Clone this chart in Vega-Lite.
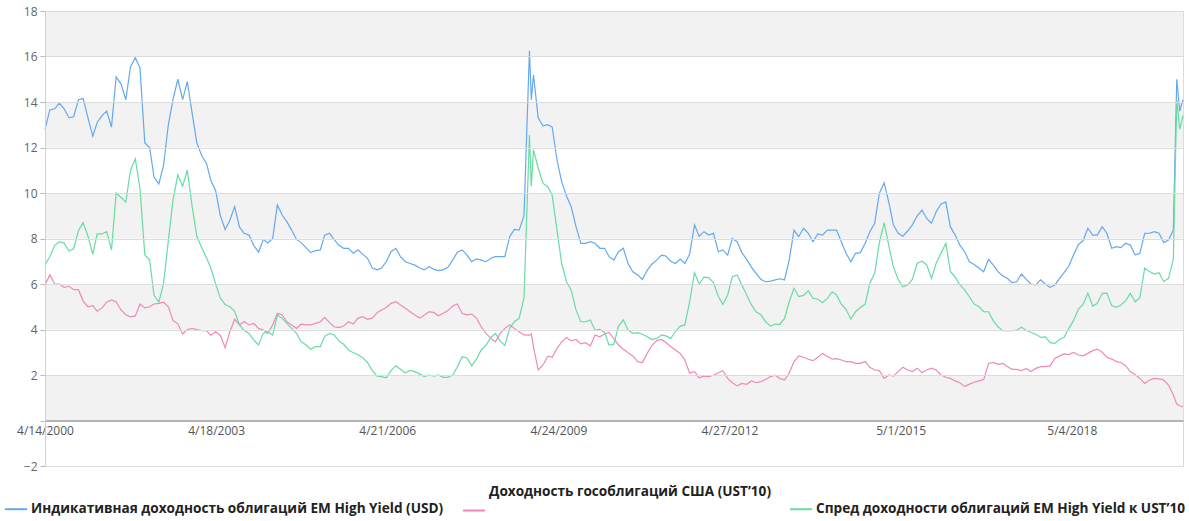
{
  "$schema": "https://vega.github.io/schema/vega-lite/v6.json",
  "width": 1138,
  "height": 455,
  "autosize": {"type": "none"},
  "padding": {"left": 45, "top": 11, "right": 6, "bottom": 55},
  "background": "white",
  "config": {"view": {"stroke": "#dcdcdc"}, "font": "Open Sans"},
  "datasets": {
    "bands": [{"lo": 0, "hi": 2}, {"lo": 4, "hi": 6}, {"lo": 8, "hi": 10}, {"lo": 12, "hi": 14}, {"lo": 16, "hi": 18}],
    "yields": [
      {"d":"2000-04-14","a":12.8,"b":5.96,"c":6.85},
      {"d":"2000-05-15","a":13.65,"b":6.4,"c":7.2},
      {"d":"2000-06-15","a":13.7,"b":6.0,"c":7.7},
      {"d":"2000-07-15","a":13.95,"b":6.0,"c":7.85},
      {"d":"2000-08-15","a":13.7,"b":5.85,"c":7.8},
      {"d":"2000-09-15","a":13.3,"b":5.9,"c":7.45},
      {"d":"2000-10-15","a":13.35,"b":5.75,"c":7.55},
      {"d":"2000-11-15","a":14.1,"b":5.75,"c":8.35},
      {"d":"2000-12-15","a":14.15,"b":5.25,"c":8.7},
      {"d":"2001-01-15","a":13.3,"b":5.0,"c":8.1},
      {"d":"2001-02-15","a":12.5,"b":5.05,"c":7.3},
      {"d":"2001-03-15","a":13.1,"b":4.8,"c":8.2},
      {"d":"2001-04-15","a":13.4,"b":4.95,"c":8.2},
      {"d":"2001-05-15","a":13.6,"b":5.2,"c":8.3},
      {"d":"2001-06-15","a":12.9,"b":5.3,"c":7.5},
      {"d":"2001-07-15","a":15.1,"b":5.22,"c":10.0},
      {"d":"2001-08-15","a":14.8,"b":4.86,"c":9.8},
      {"d":"2001-09-15","a":14.1,"b":4.65,"c":9.6},
      {"d":"2001-10-15","a":15.55,"b":4.56,"c":11.0},
      {"d":"2001-11-15","a":15.95,"b":4.6,"c":11.5},
      {"d":"2001-12-15","a":15.5,"b":5.12,"c":10.2},
      {"d":"2002-01-15","a":12.2,"b":4.95,"c":7.27},
      {"d":"2002-02-15","a":12.0,"b":5.0,"c":7.05},
      {"d":"2002-03-15","a":10.7,"b":5.12,"c":5.5},
      {"d":"2002-04-15","a":10.4,"b":5.15,"c":5.2},
      {"d":"2002-05-15","a":11.2,"b":5.2,"c":6.0},
      {"d":"2002-06-15","a":13.0,"b":5.0,"c":7.9},
      {"d":"2002-07-15","a":14.1,"b":4.4,"c":9.7},
      {"d":"2002-08-15","a":15.0,"b":4.25,"c":10.8},
      {"d":"2002-09-15","a":14.1,"b":3.8,"c":10.3},
      {"d":"2002-10-15","a":14.9,"b":4.0,"c":11.0},
      {"d":"2002-11-15","a":13.5,"b":4.05,"c":9.4},
      {"d":"2002-12-15","a":12.2,"b":4.0,"c":8.1},
      {"d":"2003-01-15","a":11.65,"b":3.95,"c":7.6},
      {"d":"2003-02-15","a":11.3,"b":3.95,"c":7.15},
      {"d":"2003-03-15","a":10.55,"b":3.75,"c":6.7},
      {"d":"2003-04-15","a":10.1,"b":3.9,"c":6.0},
      {"d":"2003-05-15","a":9.0,"b":3.75,"c":5.37},
      {"d":"2003-06-15","a":8.4,"b":3.2,"c":5.1},
      {"d":"2003-07-15","a":8.8,"b":3.9,"c":5.0},
      {"d":"2003-08-15","a":9.4,"b":4.45,"c":4.8},
      {"d":"2003-09-15","a":8.5,"b":4.2,"c":4.2},
      {"d":"2003-10-15","a":8.23,"b":4.35,"c":3.95},
      {"d":"2003-11-15","a":8.15,"b":4.2,"c":3.83},
      {"d":"2003-12-15","a":7.7,"b":4.27,"c":3.54},
      {"d":"2004-01-15","a":7.4,"b":4.05,"c":3.32},
      {"d":"2004-02-15","a":7.95,"b":3.98,"c":3.83},
      {"d":"2004-03-15","a":7.8,"b":3.83,"c":3.9},
      {"d":"2004-04-15","a":8.0,"b":4.2,"c":3.75},
      {"d":"2004-05-15","a":9.47,"b":4.71,"c":4.64},
      {"d":"2004-06-15","a":9.03,"b":4.64,"c":4.49},
      {"d":"2004-07-15","a":8.74,"b":4.34,"c":4.27},
      {"d":"2004-08-15","a":8.37,"b":4.2,"c":4.05},
      {"d":"2004-09-15","a":7.96,"b":4.05,"c":3.83},
      {"d":"2004-10-15","a":7.82,"b":4.24,"c":3.47},
      {"d":"2004-11-15","a":7.6,"b":4.2,"c":3.32},
      {"d":"2004-12-15","a":7.38,"b":4.2,"c":3.13},
      {"d":"2005-01-15","a":7.47,"b":4.27,"c":3.25},
      {"d":"2005-02-15","a":7.5,"b":4.34,"c":3.25},
      {"d":"2005-03-15","a":8.15,"b":4.53,"c":3.7},
      {"d":"2005-04-15","a":8.23,"b":4.3,"c":3.83},
      {"d":"2005-05-15","a":7.95,"b":4.12,"c":3.76},
      {"d":"2005-06-15","a":7.7,"b":4.08,"c":3.5},
      {"d":"2005-07-15","a":7.57,"b":4.15,"c":3.35},
      {"d":"2005-08-15","a":7.57,"b":4.34,"c":3.1},
      {"d":"2005-09-15","a":7.35,"b":4.24,"c":2.98},
      {"d":"2005-10-15","a":7.5,"b":4.5,"c":2.9},
      {"d":"2005-11-15","a":7.3,"b":4.56,"c":2.75},
      {"d":"2005-12-15","a":7.13,"b":4.45,"c":2.55},
      {"d":"2006-01-15","a":6.7,"b":4.5,"c":2.19},
      {"d":"2006-02-15","a":6.62,"b":4.74,"c":1.95},
      {"d":"2006-03-15","a":6.7,"b":4.86,"c":1.93},
      {"d":"2006-04-15","a":6.98,"b":4.97,"c":1.88},
      {"d":"2006-05-15","a":7.42,"b":5.15,"c":2.19},
      {"d":"2006-06-15","a":7.57,"b":5.22,"c":2.4},
      {"d":"2006-07-15","a":7.2,"b":5.08,"c":2.25},
      {"d":"2006-08-15","a":6.98,"b":4.93,"c":2.1},
      {"d":"2006-09-15","a":6.9,"b":4.78,"c":2.2},
      {"d":"2006-10-15","a":6.83,"b":4.64,"c":2.15},
      {"d":"2006-11-15","a":6.7,"b":4.5,"c":2.05},
      {"d":"2006-12-15","a":6.62,"b":4.64,"c":1.93},
      {"d":"2007-01-15","a":6.76,"b":4.78,"c":2.0},
      {"d":"2007-02-15","a":6.64,"b":4.74,"c":1.95},
      {"d":"2007-03-15","a":6.59,"b":4.6,"c":2.0},
      {"d":"2007-04-15","a":6.62,"b":4.71,"c":1.9},
      {"d":"2007-05-15","a":6.73,"b":4.83,"c":1.9},
      {"d":"2007-06-15","a":7.05,"b":5.03,"c":2.0},
      {"d":"2007-07-15","a":7.4,"b":5.12,"c":2.35},
      {"d":"2007-08-15","a":7.5,"b":4.7,"c":2.8},
      {"d":"2007-09-15","a":7.27,"b":4.64,"c":2.75},
      {"d":"2007-10-15","a":6.98,"b":4.68,"c":2.4},
      {"d":"2007-11-15","a":7.1,"b":4.5,"c":2.7},
      {"d":"2007-12-15","a":7.05,"b":4.12,"c":3.1},
      {"d":"2008-01-15","a":6.98,"b":3.83,"c":3.3},
      {"d":"2008-02-15","a":7.13,"b":3.61,"c":3.65},
      {"d":"2008-03-15","a":7.2,"b":3.46,"c":3.83},
      {"d":"2008-04-15","a":7.2,"b":3.83,"c":3.5},
      {"d":"2008-05-15","a":7.2,"b":4.05,"c":3.3},
      {"d":"2008-06-15","a":8.08,"b":4.2,"c":4.05},
      {"d":"2008-07-15","a":8.4,"b":4.05,"c":4.34},
      {"d":"2008-08-15","a":8.37,"b":3.9,"c":4.49},
      {"d":"2008-09-15","a":9.0,"b":3.76,"c":5.4},
      {"d":"2008-10-20","a":16.25,"b":3.75,"c":12.55},
      {"d":"2008-11-01","a":14.1,"b":3.8,"c":10.3},
      {"d":"2008-11-15","a":15.2,"b":3.25,"c":11.9},
      {"d":"2008-12-15","a":13.3,"b":2.22,"c":11.1},
      {"d":"2009-01-15","a":12.95,"b":2.44,"c":10.42},
      {"d":"2009-02-15","a":13.0,"b":2.83,"c":10.28},
      {"d":"2009-03-15","a":12.9,"b":2.78,"c":9.9},
      {"d":"2009-04-15","a":11.45,"b":3.17,"c":8.37},
      {"d":"2009-05-15","a":10.5,"b":3.46,"c":6.9},
      {"d":"2009-06-15","a":9.87,"b":3.65,"c":6.1},
      {"d":"2009-07-15","a":9.4,"b":3.5,"c":5.74},
      {"d":"2009-08-15","a":8.52,"b":3.56,"c":4.86},
      {"d":"2009-09-15","a":7.79,"b":3.37,"c":4.34},
      {"d":"2009-10-15","a":7.79,"b":3.42,"c":4.34},
      {"d":"2009-11-15","a":7.86,"b":3.28,"c":4.42},
      {"d":"2009-12-15","a":7.79,"b":3.76,"c":3.97},
      {"d":"2010-01-15","a":7.57,"b":3.68,"c":4.0},
      {"d":"2010-02-15","a":7.57,"b":3.8,"c":3.86},
      {"d":"2010-03-15","a":7.2,"b":3.87,"c":3.32},
      {"d":"2010-04-15","a":7.05,"b":3.6,"c":3.35},
      {"d":"2010-05-15","a":7.42,"b":3.32,"c":4.15},
      {"d":"2010-06-15","a":7.57,"b":3.13,"c":4.42},
      {"d":"2010-07-15","a":6.9,"b":2.98,"c":3.97},
      {"d":"2010-08-15","a":6.54,"b":2.84,"c":3.83},
      {"d":"2010-09-15","a":6.4,"b":2.59,"c":3.86},
      {"d":"2010-10-15","a":6.2,"b":2.55,"c":3.79},
      {"d":"2010-11-15","a":6.6,"b":2.95,"c":3.68},
      {"d":"2010-12-15","a":6.87,"b":3.29,"c":3.56},
      {"d":"2011-01-15","a":7.05,"b":3.51,"c":3.61},
      {"d":"2011-02-15","a":7.27,"b":3.56,"c":3.76},
      {"d":"2011-03-15","a":7.23,"b":3.43,"c":3.72},
      {"d":"2011-04-15","a":7.0,"b":3.25,"c":3.61},
      {"d":"2011-05-15","a":6.9,"b":3.1,"c":3.9},
      {"d":"2011-06-15","a":7.1,"b":2.95,"c":4.15},
      {"d":"2011-07-15","a":6.9,"b":2.66,"c":4.2},
      {"d":"2011-08-15","a":7.32,"b":2.08,"c":5.22},
      {"d":"2011-09-15","a":8.6,"b":2.15,"c":6.5},
      {"d":"2011-10-15","a":8.1,"b":1.88,"c":6.0},
      {"d":"2011-11-15","a":8.3,"b":1.95,"c":6.3},
      {"d":"2011-12-15","a":8.15,"b":1.93,"c":6.28},
      {"d":"2012-01-15","a":8.23,"b":1.99,"c":6.06},
      {"d":"2012-02-15","a":7.42,"b":2.1,"c":5.45},
      {"d":"2012-03-15","a":7.5,"b":2.19,"c":5.1},
      {"d":"2012-04-15","a":7.27,"b":1.85,"c":5.52},
      {"d":"2012-05-15","a":8.0,"b":1.66,"c":6.32},
      {"d":"2012-06-15","a":7.86,"b":1.52,"c":6.4},
      {"d":"2012-07-15","a":7.38,"b":1.63,"c":5.96},
      {"d":"2012-08-15","a":7.08,"b":1.59,"c":5.52},
      {"d":"2012-09-15","a":6.73,"b":1.74,"c":5.08},
      {"d":"2012-10-15","a":6.47,"b":1.66,"c":4.78},
      {"d":"2012-11-15","a":6.2,"b":1.71,"c":4.64},
      {"d":"2012-12-15","a":6.1,"b":1.8,"c":4.34},
      {"d":"2013-01-15","a":6.13,"b":1.93,"c":4.15},
      {"d":"2013-02-15","a":6.18,"b":1.99,"c":4.24},
      {"d":"2013-03-15","a":6.23,"b":1.85,"c":4.22},
      {"d":"2013-04-15","a":6.18,"b":1.78,"c":4.49},
      {"d":"2013-05-15","a":7.05,"b":2.08,"c":5.22},
      {"d":"2013-06-15","a":8.37,"b":2.59,"c":5.81},
      {"d":"2013-07-15","a":8.08,"b":2.84,"c":5.45},
      {"d":"2013-08-15","a":8.45,"b":2.78,"c":5.5},
      {"d":"2013-09-15","a":8.23,"b":2.69,"c":5.71},
      {"d":"2013-10-15","a":7.86,"b":2.63,"c":5.37},
      {"d":"2013-11-15","a":8.2,"b":2.78,"c":5.33},
      {"d":"2013-12-15","a":8.15,"b":2.95,"c":5.18},
      {"d":"2014-01-15","a":8.37,"b":2.81,"c":5.37},
      {"d":"2014-02-15","a":8.37,"b":2.7,"c":5.66},
      {"d":"2014-03-15","a":8.37,"b":2.72,"c":5.52},
      {"d":"2014-04-15","a":7.86,"b":2.66,"c":5.11},
      {"d":"2014-05-15","a":7.35,"b":2.59,"c":4.89},
      {"d":"2014-06-15","a":6.98,"b":2.59,"c":4.45},
      {"d":"2014-07-15","a":7.35,"b":2.51,"c":4.78},
      {"d":"2014-08-15","a":7.38,"b":2.51,"c":4.97},
      {"d":"2014-09-15","a":7.79,"b":2.59,"c":5.12},
      {"d":"2014-10-15","a":8.3,"b":2.34,"c":6.03},
      {"d":"2014-11-15","a":8.67,"b":2.22,"c":6.47},
      {"d":"2014-12-15","a":9.99,"b":2.19,"c":7.82},
      {"d":"2015-01-15","a":10.45,"b":1.85,"c":8.7},
      {"d":"2015-02-15","a":9.55,"b":2.0,"c":7.64},
      {"d":"2015-03-15","a":8.6,"b":1.95,"c":6.75},
      {"d":"2015-04-15","a":8.23,"b":2.15,"c":6.2},
      {"d":"2015-05-15","a":8.1,"b":2.34,"c":5.88},
      {"d":"2015-06-15","a":8.33,"b":2.22,"c":5.96},
      {"d":"2015-07-15","a":8.6,"b":2.15,"c":6.2},
      {"d":"2015-08-15","a":9.0,"b":2.3,"c":6.91},
      {"d":"2015-09-15","a":9.25,"b":2.1,"c":7.0},
      {"d":"2015-10-15","a":8.88,"b":2.22,"c":6.84},
      {"d":"2015-11-15","a":8.67,"b":2.3,"c":6.25},
      {"d":"2015-12-15","a":9.18,"b":2.22,"c":6.91},
      {"d":"2016-01-15","a":9.52,"b":2.0,"c":7.35},
      {"d":"2016-02-15","a":9.6,"b":1.9,"c":7.79},
      {"d":"2016-03-15","a":8.52,"b":1.85,"c":6.55},
      {"d":"2016-04-15","a":8.15,"b":1.74,"c":6.3},
      {"d":"2016-05-15","a":7.71,"b":1.66,"c":5.96},
      {"d":"2016-06-15","a":7.42,"b":1.49,"c":5.74},
      {"d":"2016-07-15","a":6.98,"b":1.6,"c":5.44},
      {"d":"2016-08-15","a":6.86,"b":1.68,"c":5.12},
      {"d":"2016-09-15","a":6.69,"b":1.74,"c":5.0},
      {"d":"2016-10-15","a":6.54,"b":1.8,"c":4.78},
      {"d":"2016-11-15","a":7.08,"b":2.51,"c":4.78},
      {"d":"2016-12-15","a":6.84,"b":2.55,"c":4.39},
      {"d":"2017-01-15","a":6.54,"b":2.47,"c":4.12},
      {"d":"2017-02-15","a":6.35,"b":2.51,"c":3.95},
      {"d":"2017-03-15","a":6.25,"b":2.37,"c":3.95},
      {"d":"2017-04-15","a":6.06,"b":2.25,"c":3.95},
      {"d":"2017-05-15","a":6.1,"b":2.25,"c":3.97},
      {"d":"2017-06-15","a":6.44,"b":2.19,"c":4.1},
      {"d":"2017-07-15","a":6.2,"b":2.29,"c":3.97},
      {"d":"2017-08-15","a":6.0,"b":2.15,"c":3.87},
      {"d":"2017-09-15","a":5.96,"b":2.29,"c":3.79},
      {"d":"2017-10-15","a":6.18,"b":2.37,"c":3.66},
      {"d":"2017-11-15","a":6.0,"b":2.37,"c":3.68},
      {"d":"2017-12-15","a":5.85,"b":2.4,"c":3.42},
      {"d":"2018-01-15","a":5.96,"b":2.73,"c":3.39},
      {"d":"2018-02-15","a":6.25,"b":2.84,"c":3.56},
      {"d":"2018-03-15","a":6.5,"b":2.93,"c":3.66},
      {"d":"2018-04-15","a":6.79,"b":2.9,"c":4.05},
      {"d":"2018-05-15","a":7.27,"b":2.99,"c":4.4},
      {"d":"2018-06-15","a":7.74,"b":2.88,"c":4.89},
      {"d":"2018-07-15","a":7.9,"b":2.84,"c":5.1},
      {"d":"2018-08-15","a":8.45,"b":2.95,"c":5.6},
      {"d":"2018-09-15","a":8.15,"b":3.07,"c":5.03},
      {"d":"2018-10-15","a":8.15,"b":3.14,"c":5.15},
      {"d":"2018-11-15","a":8.52,"b":3.0,"c":5.59},
      {"d":"2018-12-15","a":8.23,"b":2.78,"c":5.6},
      {"d":"2019-01-15","a":7.57,"b":2.7,"c":5.05},
      {"d":"2019-02-15","a":7.64,"b":2.59,"c":4.97},
      {"d":"2019-03-15","a":7.6,"b":2.55,"c":5.08},
      {"d":"2019-04-15","a":7.79,"b":2.4,"c":5.27},
      {"d":"2019-05-15","a":7.71,"b":2.15,"c":5.59},
      {"d":"2019-06-15","a":7.27,"b":2.02,"c":5.22},
      {"d":"2019-07-15","a":7.35,"b":1.85,"c":5.4},
      {"d":"2019-08-15","a":8.23,"b":1.63,"c":6.69},
      {"d":"2019-09-15","a":8.23,"b":1.78,"c":6.55},
      {"d":"2019-10-15","a":8.3,"b":1.85,"c":6.44},
      {"d":"2019-11-15","a":8.23,"b":1.83,"c":6.5},
      {"d":"2019-12-15","a":7.82,"b":1.78,"c":6.1},
      {"d":"2020-01-15","a":7.93,"b":1.56,"c":6.25},
      {"d":"2020-02-15","a":8.37,"b":1.12,"c":7.1},
      {"d":"2020-03-08","a":15.0,"b":0.72,"c":14.1},
      {"d":"2020-03-27","a":13.6,"b":0.65,"c":12.8},
      {"d":"2020-04-17","a":14.1,"b":0.6,"c":13.4}
    ]
  },
  "layer": [
    {
      "data": {"name": "bands"},
      "mark": {"type": "rect", "fill": "#f2f2f2"},
      "encoding": {
        "x": {"value": 0},
        "x2": {"value": "width"},
        "y": {"field": "lo", "type": "quantitative", "scale": {"domain": [-2, 18], "nice": false, "zero": false}},
        "y2": {"field": "hi"}
      }
    },
    {
      "data": {"name": "yields"},
      "transform": [{"fold": ["a", "b", "c"], "as": ["s", "v"]}],
      "mark": {"type": "line", "strokeWidth": 1.2, "interpolate": "linear"},
      "encoding": {
        "x": {
          "field": "d",
          "type": "temporal",
          "scale": {
            "type": "utc",
            "domain": [
              {"year": 2000, "month": 4, "date": 14, "utc": true},
              {"year": 2020, "month": 4, "date": 17, "utc": true}
            ]
          },
          "axis": {
            "title": null,
            "values": [
              {"year": 2000, "month": 4, "date": 14, "utc": true},
              {"year": 2003, "month": 4, "date": 18, "utc": true},
              {"year": 2006, "month": 4, "date": 21, "utc": true},
              {"year": 2009, "month": 4, "date": 24, "utc": true},
              {"year": 2012, "month": 4, "date": 27, "utc": true},
              {"year": 2015, "month": 5, "date": 1, "utc": true},
              {"year": 2018, "month": 5, "date": 4, "utc": true}
            ],
            "labelExpr": "utcFormat(datum.value, '%-m/%-d/%Y')",
            "offset": -45.5,
            "domainColor": "#b4b4b4",
            "domainWidth": 2,
            "ticks": false,
            "grid": false,
            "labelColor": "#555555",
            "labelFontSize": 12,
            "labelFont": "Open Sans",
            "labelPadding": 5,
            "labelFlush": false,
            "labelOverlap": false,
            "zindex": 1
          }
        },
        "y": {
          "field": "v",
          "type": "quantitative",
          "scale": {"domain": [-2, 18], "nice": false, "zero": false},
          "axis": {
            "title": null,
            "values": [-2, -1, 0, 1, 2, 3, 4, 5, 6, 7, 8, 9, 10, 11, 12, 13, 14, 15, 16, 17, 18],
            "labelExpr": "datum.value % 2 === 0 && datum.value !== 0 ? datum.label : ''",
            "grid": true,
            "gridColor": "#dcdcdc",
            "gridOpacity": {"condition": {"test": "datum.value % 2 !== 0", "value": 0}, "value": 1},
            "domainColor": "#d0d0d0",
            "tickColor": "#b8b8b8",
            "tickSize": 5,
            "labelColor": "#666666",
            "labelFontSize": 12,
            "labelFont": "Open Sans",
            "labelPadding": 3,
            "zindex": 1
          }
        },
        "color": {
          "field": "s",
          "type": "nominal",
          "scale": {"domain": ["a", "b", "c"], "range": ["#63a9f0", "#f088ba", "#66dca2"]},
          "legend": {
            "title": null,
            "orient": "none",
            "legendX": -41,
            "legendY": 486,
            "direction": "horizontal",
            "symbolType": "stroke",
            "symbolSize": 484,
            "symbolStrokeWidth": 2,
            "labelFont": "Open Sans",
            "labelFontSize": 13.6,
            "labelFontWeight": "bold",
            "labelColor": "#222222",
            "labelLimit": 1000,
            "labelOffset": 3,
            "columnPadding": 15,
            "labelExpr": "datum.value === 'a' ? 'Индикативная доходность облигаций EM High Yield (USD)' : datum.value === 'b' ? 'Доходность гособлигаций США (UST’10)' : 'Спред доходности облигаций EM High Yield к UST’10'",
            "encode": {"labels": {"update": {"dy": {"signal": "datum.value === 'b' ? -19 : 0"}}}}
          }
        }
      }
    }
  ]
}
